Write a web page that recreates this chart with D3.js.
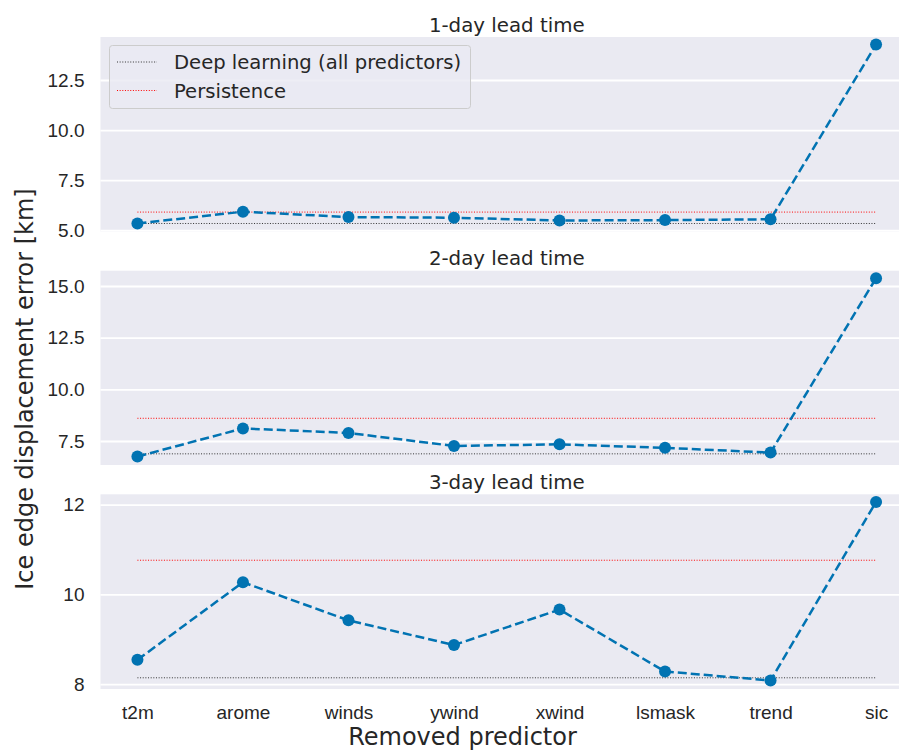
<!DOCTYPE html>
<html>
<head>
<meta charset="utf-8">
<script src="https://cdn.jsdelivr.net/npm/d3@7"></script>
<style>
  body { margin: 0; background: #fff; }
  svg { display: block; font-family: "DejaVu Sans", sans-serif; }
</style>
</head>
<body>
<svg id="chart" width="899" height="751"></svg>
<script>
var predictors = ["t2m", "arome", "winds", "ywind", "xwind", "lsmask", "trend", "sic"];
var titles = ["1-day lead time", "2-day lead time", "3-day lead time"];

// error when the predictor is removed, one array per lead time
var removed1 = [5.33, 5.92, 5.65, 5.62, 5.48, 5.5, 5.54, 14.27];
var removed2 = [6.75, 8.11, 7.89, 7.26, 7.34, 7.17, 6.94, 15.38];
var removed3 = [8.54, 10.27, 9.42, 8.87, 9.66, 8.28, 8.08, 12.06];

var deepLearning = [5.33, 6.88, 8.14];
var persistence = [5.9, 8.6, 10.76];

var yDomains = [[4.93, 14.65], [6.34, 15.74], [7.89, 12.23]];
var yTicks = [[5.0, 7.5, 10.0, 12.5], [7.5, 10.0, 12.5, 15.0], [8, 10, 12]];
var tickFmt = [d3.format(".1f"), d3.format(".1f"), d3.format("d")];

var panels = [
    { top: 37, bottom: 231.5 },
    { top: 270.7, bottom: 465 },
    { top: 494.3, bottom: 689 }
];
var seriesList = [removed1, removed2, removed3];

var plotLeft = 100.5, plotRight = 913;
var textColor = "#262626";
var lineColor = "#0173b2";
var tickSize = 19;

var svg = d3.select("#chart");

// matplotlib keeps a 0.05 margin of the 7 steps -> 0.35 step each side
var xScale = d3.scalePoint()
    .domain(predictors)
    .range([plotLeft, plotRight])
    .padding(0.35);

panels.forEach(function (p, i) {
    var g = svg.append("g");
    var yScale = d3.scaleLinear().domain(yDomains[i]).range([p.bottom, p.top]);

    g.append("rect")
        .attr("x", plotLeft)
        .attr("y", p.top)
        .attr("width", plotRight - plotLeft)
        .attr("height", p.bottom - p.top)
        .attr("fill", "#eaeaf2");

    var yAxis = d3.axisLeft(yScale)
        .tickValues(yTicks[i])
        .tickFormat(tickFmt[i])
        .tickSize(-(plotRight - plotLeft))
        .tickPadding(16);
    var yAxisG = g.append("g")
        .attr("transform", `translate(${plotLeft},0)`)
        .call(yAxis);
    yAxisG.select(".domain").remove();
    yAxisG.selectAll(".tick line").attr("stroke", "#fff").attr("stroke-width", 1.8);
    yAxisG.selectAll(".tick text")
        .attr("fill", textColor)
        .attr("font-size", tickSize)
        .attr("x", -16);

    if (i == 2) {
        var xAxis = d3.axisBottom(xScale).tickSize(0).tickPadding(16.8);
        var xAxisG = g.append("g")
            .attr("transform", `translate(0,${p.bottom})`)
            .call(xAxis);
        xAxisG.select(".domain").remove();
        xAxisG.selectAll(".tick text")
            .attr("fill", textColor)
            .attr("font-size", tickSize);
    }

    var x0 = xScale(predictors[0]), x1 = xScale(predictors[predictors.length - 1]);
    g.append("line")
        .attr("x1", x0).attr("x2", x1)
        .attr("y1", yScale(deepLearning[i])).attr("y2", yScale(deepLearning[i]))
        .attr("stroke", "#333")
        .attr("stroke-width", 1)
        .attr("stroke-dasharray", "1,1.65");
    g.append("line")
        .attr("x1", x0).attr("x2", x1)
        .attr("y1", yScale(persistence[i])).attr("y2", yScale(persistence[i]))
        .attr("stroke", "red")
        .attr("stroke-width", 1)
        .attr("stroke-dasharray", "1,1.65");

    var line = d3.line()
        .x(function (d, j) { return xScale(predictors[j]); })
        .y(function (d) { return yScale(d); });
    g.append("path")
        .datum(seriesList[i])
        .attr("d", line)
        .attr("fill", "none")
        .attr("stroke", lineColor)
        .attr("stroke-width", 2.5)
        .attr("stroke-dasharray", "9,4");

    g.selectAll("circle.pt")
        .data(seriesList[i])
        .enter()
        .append("circle")
        .attr("class", "pt")
        .attr("cx", function (d, j) { return xScale(predictors[j]); })
        .attr("cy", function (d) { return yScale(d); })
        .attr("r", 6)
        .attr("fill", lineColor);

    g.append("text")
        .attr("x", (plotLeft + plotRight) / 2)
        .attr("y", p.top - 5.5)
        .attr("text-anchor", "middle")
        .attr("fill", textColor)
        .attr("font-size", 19.8)
        .text(titles[i]);
});

// legend in the first panel
var legendG = svg.append("g");
legendG.append("rect")
    .attr("x", 109.5).attr("y", 45.5)
    .attr("width", 361).attr("height", 63)
    .attr("rx", 3)
    .attr("fill", "#eaeaf2")
    .attr("fill-opacity", 0.8)
    .attr("stroke", "#cccccc")
    .attr("stroke-width", 1);
var legendItems = [
    { label: "Deep learning (all predictors)", color: "#333", y: 62 },
    { label: "Persistence", color: "red", y: 90.5 }
];
legendItems.forEach(function (item) {
    legendG.append("line")
        .attr("x1", 117).attr("x2", 157)
        .attr("y1", item.y).attr("y2", item.y)
        .attr("stroke", item.color)
        .attr("stroke-width", 1)
        .attr("stroke-dasharray", "1,1.65");
    legendG.append("text")
        .attr("x", 174)
        .attr("y", item.y + 7)
        .attr("fill", textColor)
        .attr("font-size", 19.6)
        .text(item.label);
});

svg.append("text")
    .attr("x", 462.5)
    .attr("y", 745)
    .attr("text-anchor", "middle")
    .attr("fill", textColor)
    .attr("font-size", 24)
    .text("Removed predictor");

svg.append("text")
    .attr("transform", "translate(32.5,389) rotate(-90)")
    .attr("text-anchor", "middle")
    .attr("fill", textColor)
    .attr("font-size", 24)
    .text("Ice edge displacement error [km]");
</script>
</body>
</html>
